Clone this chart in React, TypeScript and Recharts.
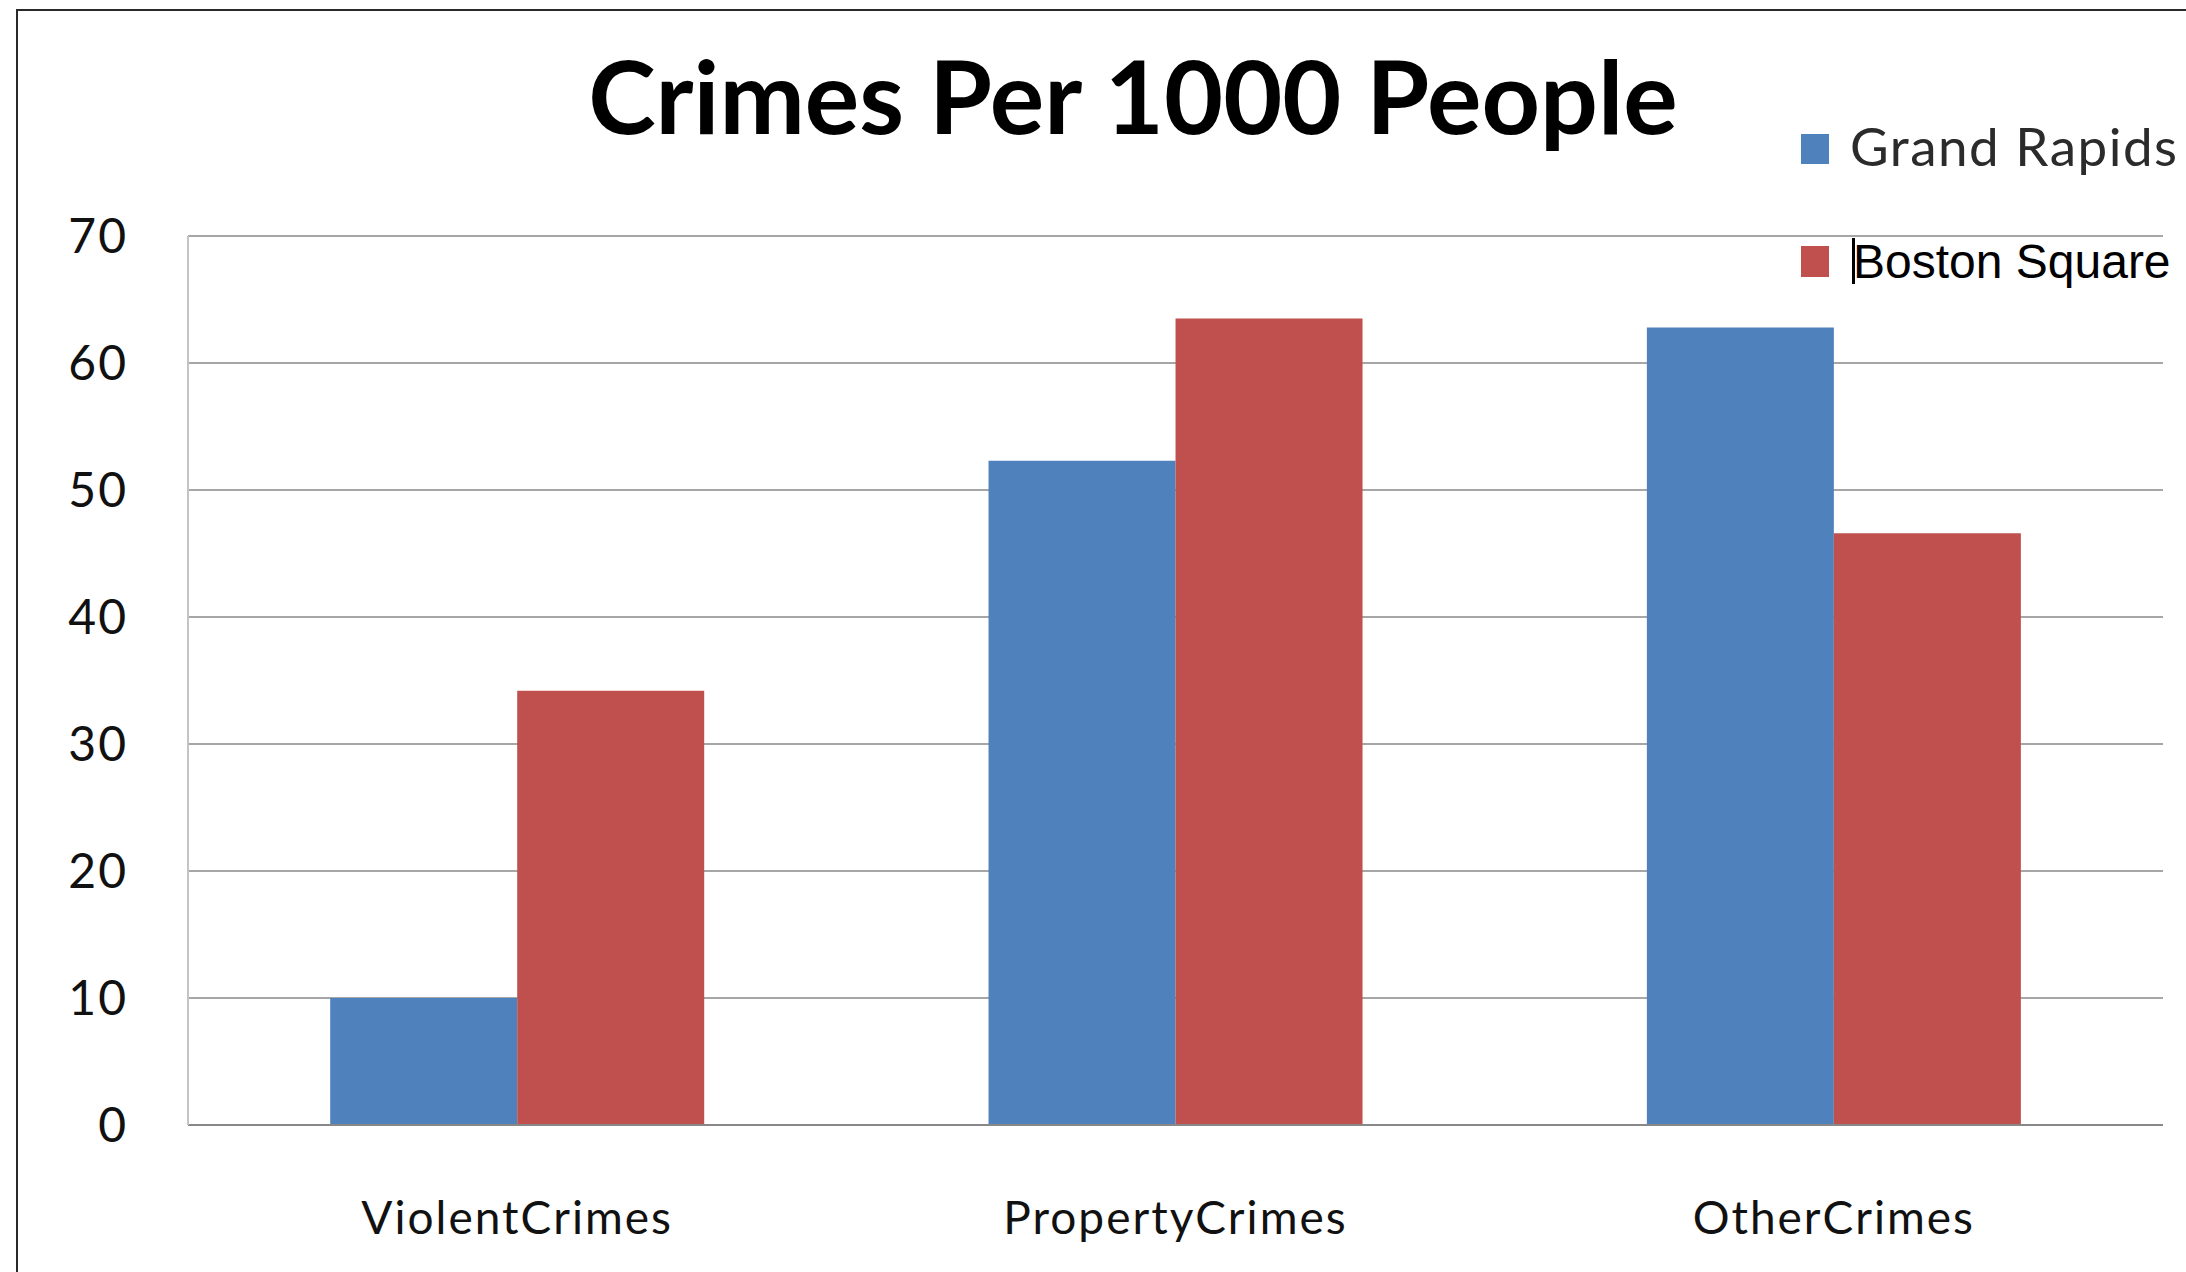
import React from 'react';
import { BarChart, Bar, XAxis, YAxis, CartesianGrid } from 'recharts';

const categories = ['ViolentCrimes', 'PropertyCrimes', 'OtherCrimes'];
const grandRapids = [10, 52.3, 62.8];
const bostonSquare = [34.2, 63.5, 46.6];
const yTicks = [0, 10, 20, 30, 40, 50, 60, 70];

const BLUE = '#4F81BD';
const RED = '#C0504D';

const data = categories.map((name, i) => ({
  name,
  grandRapids: grandRapids[i],
  bostonSquare: bostonSquare[i]
}));

export default function App() {
  return (
    <div
      style={{
        position: 'absolute',
        left: 0,
        top: 0,
        width: 2186,
        height: 1272,
        overflow: 'hidden',
        background: '#fff',
        fontFamily: 'Lato, sans-serif'
      }}
    >
      {/* frame */}
      <div
        style={{
          position: 'absolute',
          left: 16,
          top: 9,
          width: 2300,
          height: 1400,
          border: '2px solid #2a2a2a'
        }}
      />
      <BarChart
        width={2186}
        height={1272}
        data={data}
        margin={{ top: 236, right: 23, left: 0, bottom: 0 }}
        barCategoryGap="21.6%"
        barGap={0}
        style={{ position: 'absolute', left: 0, top: 0 }}
      >
        <CartesianGrid vertical={false} stroke="#a6a6a6" strokeWidth={2} />
        <XAxis
          dataKey="name"
          height={147}
          tickLine={false}
          tickSize={0}
          tickMargin={76}
          axisLine={{ stroke: '#888', strokeWidth: 2 }}
          tick={{ fill: '#111', fontSize: 46, fontFamily: 'Lato', letterSpacing: 2 }}
        />
        <YAxis
          width={188}
          domain={[0, 70]}
          ticks={yTicks}
          tickLine={false}
          tickSize={0}
          tickMargin={60}
          axisLine={{ stroke: '#c4c4c4', strokeWidth: 2 }}
          tick={{ fill: '#111', fontSize: 48, fontFamily: 'Lato', letterSpacing: 2 }}
        />
        <Bar dataKey="grandRapids" fill={BLUE} isAnimationActive={false} />
        <Bar dataKey="bostonSquare" fill={RED} isAnimationActive={false} />
      </BarChart>
      {/* title */}
      <div
        style={{
          position: 'absolute',
          left: 1133,
          top: 94,
          transform: 'translate(-50%, -50%)',
          fontSize: 102,
          fontWeight: 700,
          color: '#000',
          whiteSpace: 'nowrap'
        }}
      >
        Crimes Per 1000 People
      </div>
      {/* legend */}
      <div style={{ position: 'absolute', left: 1801, top: 134, width: 28, height: 30, background: BLUE }} />
      <div
        style={{
          position: 'absolute',
          left: 1850,
          top: 116,
          fontSize: 53,
          lineHeight: '60px',
          letterSpacing: 1.5,
          color: '#2b2b2b',
          whiteSpace: 'nowrap'
        }}
      >
        Grand Rapids
      </div>
      <div style={{ position: 'absolute', left: 1801, top: 246, width: 28, height: 31, background: RED }} />
      <div style={{ position: 'absolute', left: 1852, top: 238, width: 3, height: 46, background: '#000' }} />
      <div
        style={{
          position: 'absolute',
          left: 1853,
          top: 232,
          fontSize: 48,
          lineHeight: '60px',
          fontFamily: '"Liberation Sans", Arial, sans-serif',
          color: '#000',
          whiteSpace: 'nowrap'
        }}
      >
        Boston Square
      </div>
    </div>
  );
}
